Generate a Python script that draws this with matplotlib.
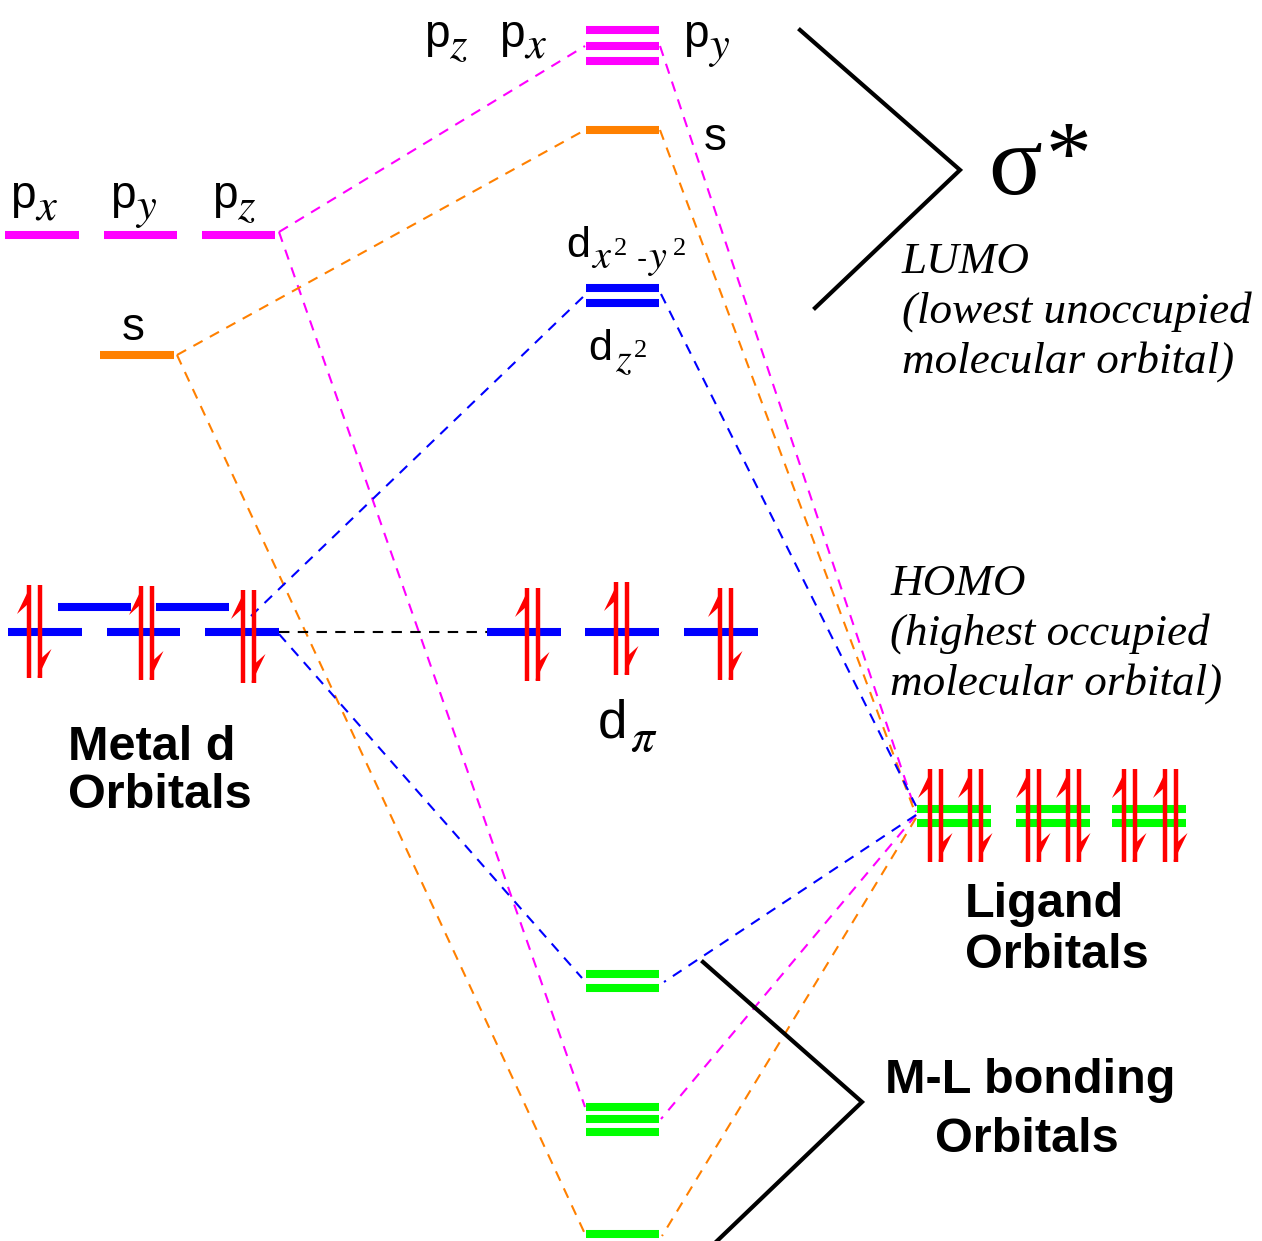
import matplotlib
matplotlib.use("Agg")
import matplotlib.pyplot as plt
from matplotlib.patches import Polygon

plt.rcParams['font.family'] = ['Liberation Sans', 'DejaVu Sans']
plt.rcParams['mathtext.fontset'] = 'stix'

# ---------------- data (energy levels, in diagram units: pixel rows) ----------------
MAG, ORA, BLU, GRN, RED = '#FF00FF', '#FF8000', '#0000FF', '#00FF00', '#FF0000'

# metal atomic orbitals
metal_p_subs = ['x', 'y', 'z']
metal_p_energy = 235
metal_s_energy = 355
metal_d_upper_energy = 607
metal_d_lower_energy = 632
# molecular orbitals (middle column)
mo_p_subs = ['z', 'x', 'y']
mo_p_energies = [30, 46, 61]          # sigma* from p (3 levels)
mo_s_energy = 130                     # sigma* from s
mo_d_energies = [288, 303]            # sigma* dx2-y2, dz2
mo_dpi_energy = 632                   # non-bonding d_pi
mo_bond_d_energies = [974, 988]       # bonding (d)
mo_bond_p_energies = [1107, 1119, 1132]  # bonding (p)
mo_bond_s_energy = 1234               # bonding (s)
# ligand orbitals
ligand_energies = [809, 823]

# ---------------- figure ----------------
W, H = 1262, 1241
fig = plt.figure(figsize=(W / 100, H / 100), dpi=100)
ax = fig.add_axes([0, 0, 1, 1])
ax.set_xlim(0, W)
ax.set_ylim(H, 0)
ax.axis('off')

LW_LEVEL = 5.8
SERIF = 'Liberation Serif'


def level(x0, x1, y, c):
    ax.plot([x0, x1], [y, y], color=c, lw=LW_LEVEL, solid_capstyle='butt', zorder=3)


def dash(p0, p1, c):
    ax.plot([p0[0], p1[0]], [p0[1], p1[1]], color=c, lw=1.5,
            dashes=(5, 4), zorder=2)


def harpoon(x, top, bottom, up=True):
    ax.plot([x, x], [top, bottom], color=RED, lw=3.2, solid_capstyle='butt', zorder=5)
    if up:
        pts = [(x + 2, top), (x - 12, top + 29), (x - 1, top + 19)]
    else:
        pts = [(x - 2, bottom), (x + 12, bottom - 29), (x + 1, bottom - 19)]
    ax.add_patch(Polygon(pts, closed=True, color=RED, lw=0, zorder=5))


def pair(x, top, bottom):
    harpoon(x, top, bottom, True)
    harpoon(x + 10.5, top, bottom, False)


def ital(x, y, s, fs):
    ax.text(x, y, '$' + s + '$', fontsize=fs, va='baseline', ha='left')


def plabel(x, base, sub, fs=33):
    ax.text(x, base, 'p', fontsize=fs, va='baseline', ha='left')
    ital(x + 25, base + 11, sub, 32)


# layout columns
left_p_x = [(5, 79), (104, 177), (202, 275)]
left_d_lower_x = [(8, 82), (107, 180), (205, 279)]
left_d_upper_x = [(58, 131), (156, 229)]
mid_x = (586, 659)
dpi_x = [(487, 561), (585, 659), (684, 758)]
lig_x = [(917, 991), (1016, 1090), (1112, 1186)]

# ---------------- dashed correlation lines ----------------
dash((279, metal_p_energy - 3), (585, mo_p_energies[1]), MAG)
dash((279, metal_p_energy - 3), (585, mo_bond_p_energies[0]), MAG)
dash((660, mo_p_energies[1]), (916, ligand_energies[0] + 3), MAG)
dash((916, ligand_energies[0] + 6), (661, mo_bond_p_energies[1]), MAG)

dash((177, metal_s_energy), (585, mo_s_energy), ORA)
dash((177, metal_s_energy), (585, mo_bond_s_energy), ORA)
dash((660, mo_s_energy), (916, ligand_energies[0] + 6), ORA)
dash((916, ligand_energies[0] + 9), (662, mo_bond_s_energy + 2), ORA)

dash((251, 616), (585, mo_d_energies[0] + 7), BLU)
dash((279, metal_d_lower_energy + 2), (582, mo_bond_d_energies[0] + 4), BLU)
dash((661, mo_d_energies[0] + 6), (916, ligand_energies[0] - 3), BLU)
dash((916, ligand_energies[0] + 6), (664, mo_bond_d_energies[0] + 8), BLU)

dash((279, metal_d_lower_energy), (487, mo_dpi_energy), 'black')

# ---------------- levels ----------------
for x0, x1 in left_p_x:
    level(x0, x1, metal_p_energy, MAG)
level(100, 174, metal_s_energy, ORA)
for x0, x1 in left_d_lower_x:
    level(x0, x1, metal_d_lower_energy, BLU)
for x0, x1 in left_d_upper_x:
    level(x0, x1, metal_d_upper_energy, BLU)

for y in mo_p_energies:
    level(*mid_x, y, MAG)
level(*mid_x, mo_s_energy, ORA)
for y in mo_d_energies:
    level(*mid_x, y, BLU)
for x0, x1 in dpi_x:
    level(x0, x1, mo_dpi_energy, BLU)
for y in mo_bond_d_energies:
    level(*mid_x, y, GRN)
for y in mo_bond_p_energies:
    level(*mid_x, y, GRN)
level(*mid_x, mo_bond_s_energy, GRN)
for x0, x1 in lig_x:
    for y in ligand_energies:
        level(x0, x1, y, GRN)

# ---------------- electrons ----------------
pair(29, 585, 678)
pair(141, 586, 680)
pair(243, 590, 683)
pair(527, 588, 681)
pair(616, 582, 675)
pair(720, 588, 680)
for gx in [930, 970, 1028, 1068, 1124, 1165]:
    pair(gx, 769, 862)

# ---------------- brackets ----------------
ax.plot([800, 960, 815], [30, 170, 308], color='black', lw=3, solid_joinstyle='miter', zorder=2)
ax.plot([703, 862, 717], [962, 1102, 1241], color='black', lw=3, solid_joinstyle='miter', zorder=2)

# ---------------- text ----------------
for x, sub in zip([10, 110, 212], metal_p_subs):
    plabel(x, 208, sub)
ax.text(122, 340, 's', fontsize=33, va='baseline', ha='left')

for x, sub in zip([424, 499, 683], mo_p_subs):
    plabel(x, 47, sub)
ax.text(704, 150, 's', fontsize=33, va='baseline', ha='left')

sup = dict(family=SERIF, va='baseline', ha='left')
# d x2-y2
ax.text(566, 257, 'd', fontsize=31, va='baseline', ha='left')
ital(591, 268, 'x', 29)
ax.text(614, 255, '2', fontsize=19, **sup)
ax.text(637, 268, '-', fontsize=22, va='baseline', ha='left')
ital(648, 268, 'y', 29)
ax.text(673, 255, '2', fontsize=19, **sup)
# d z2
ax.text(588, 360, 'd', fontsize=31, va='baseline', ha='left')
ital(615, 371, 'z', 29)
ax.text(634, 357, '2', fontsize=19, **sup)
# d pi
ax.text(598, 737, 'd', fontsize=38, va='baseline', ha='left')
ital(630, 751, r'\pi', 34)

ax.text(988, 194, 'σ', fontsize=72, family=SERIF, va='baseline', ha='left')
ax.text(1046, 184, '*', fontsize=66, family=SERIF, va='baseline', ha='left')

it = dict(fontsize=32.5, family=SERIF, style='italic', va='baseline', ha='left')
for i, s in enumerate(['LUMO', '(lowest unoccupied', 'molecular orbital)']):
    ax.text(902, 273 + 50 * i, s, **it)
for i, s in enumerate(['HOMO', '(highest occupied', 'molecular orbital)']):
    ax.text(890, 595 + 50 * i, s, **it)

bd = dict(fontsize=35, fontweight='bold', va='baseline', ha='left')
ax.text(68, 760, 'Metal d', **bd)
ax.text(68, 808, 'Orbitals', **bd)
ax.text(965, 917, 'Ligand', **bd)
ax.text(965, 968, 'Orbitals', **bd)
ax.text(885, 1093, 'M-L bonding', **bd)
ax.text(935, 1152, 'Orbitals', **bd)

fig.savefig('out.png', dpi=100)
